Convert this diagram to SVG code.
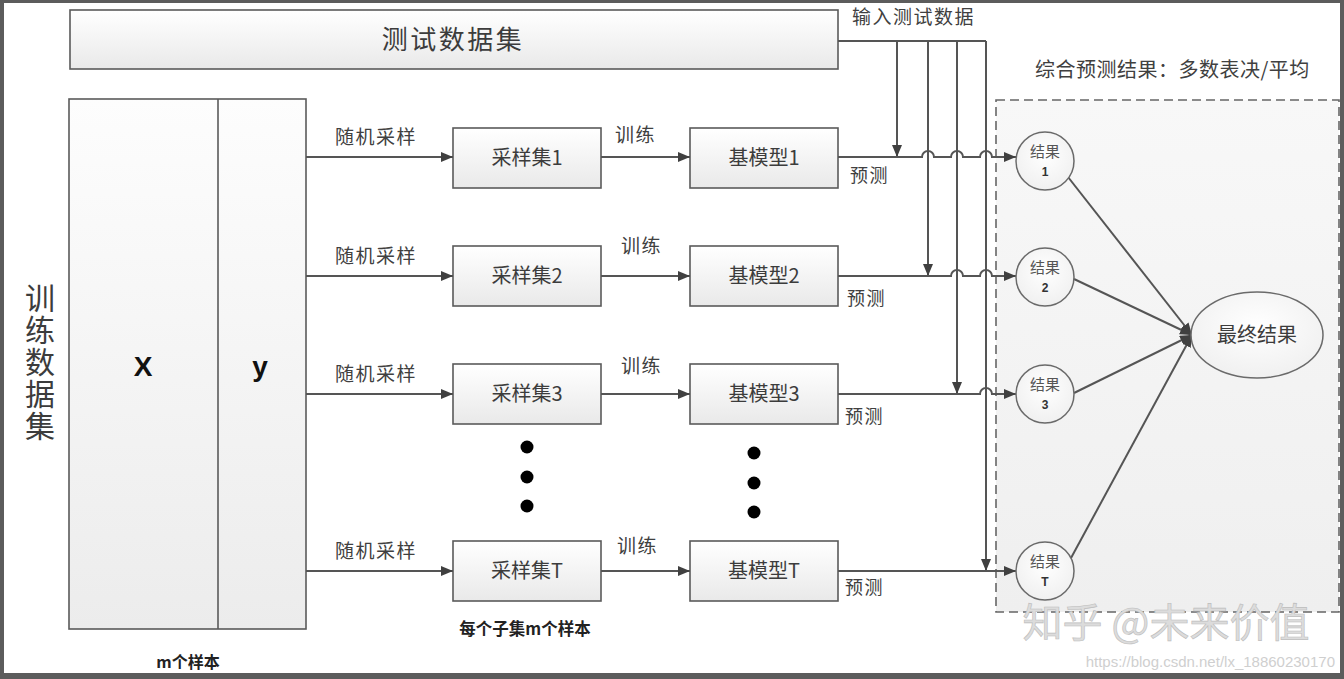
<svg xmlns="http://www.w3.org/2000/svg" width="1344" height="679" viewBox="0 0 1344 679">
<defs>
<linearGradient id="gBox" x1="0" y1="0" x2="0" y2="1">
<stop offset="0" stop-color="#ffffff"/><stop offset="1" stop-color="#e9e9e9"/>
</linearGradient>
<linearGradient id="gTall" x1="0" y1="0" x2="0" y2="1">
<stop offset="0" stop-color="#fdfdfd"/><stop offset="1" stop-color="#ececec"/>
</linearGradient>
<linearGradient id="gDash" x1="0" y1="0" x2="0" y2="1">
<stop offset="0" stop-color="#f8f8f8"/><stop offset="1" stop-color="#efefef"/>
</linearGradient>
<radialGradient id="gCirc" cx="0.5" cy="0.4" r="0.6">
<stop offset="0" stop-color="#ffffff"/><stop offset="1" stop-color="#f0f0f0"/>
</radialGradient>
<marker id="arr" viewBox="0 0 12 10" refX="12" refY="5" markerWidth="12" markerHeight="10" markerUnits="userSpaceOnUse" orient="auto">
<path d="M0,0 L12,5 L0,10 z" fill="#404040"/>
</marker>
</defs>
<style>
.box{fill:url(#gBox);stroke:#5a5a5a;stroke-width:1.6}
.ln{fill:none;stroke:#555;stroke-width:2}
.t{font-family:"Noto Sans CJK SC","Liberation Sans",sans-serif;fill:#3c3c3c;text-anchor:middle}
.lab{font-family:"Noto Sans CJK SC","Liberation Sans",sans-serif;fill:#404040;font-size:19px;letter-spacing:1.5px}
.bt{font-family:"Noto Sans CJK SC","Liberation Sans",sans-serif;fill:#3c3c3c;text-anchor:middle;font-size:20px}
.circ{fill:url(#gCirc);stroke:#6a6a6a;stroke-width:1.5}
.ct{font-family:"Noto Sans CJK SC","Liberation Sans",sans-serif;fill:#555;text-anchor:middle;font-size:15px}
.cn{font-family:"Liberation Sans",sans-serif;fill:#333;text-anchor:middle;font-size:12px;font-weight:bold}
.dot{fill:#000}
</style>
<rect x="0" y="0" width="1344" height="679" fill="#5c5c5c"/>
<rect x="4" y="3" width="1336" height="670" fill="#ffffff"/>

<g id="test-set">
<rect class="box" x="70" y="10" width="768" height="59"/>
<text class="t" x="453" y="49" font-size="26" letter-spacing="2.5">测试数据集</text>
</g>
<text class="lab" x="852" y="24">输入测试数据</text>

<g id="train-set">
<rect x="69" y="99" width="237" height="530" fill="url(#gTall)" stroke="#5a5a5a" stroke-width="1.6"/>
<line x1="218" y1="99" x2="218" y2="629" stroke="#5a5a5a" stroke-width="1.6"/>
<text x="143" y="376" font-family="Liberation Sans, sans-serif" font-weight="bold" font-size="28" fill="#111" text-anchor="middle">X</text>
<text x="260" y="376" font-family="Liberation Sans, sans-serif" font-weight="bold" font-size="28" fill="#111" text-anchor="middle">y</text>
<text x="40" y="283" font-family="Noto Sans CJK SC, sans-serif" font-size="30" fill="#3c3c3c" letter-spacing="2" style="writing-mode:vertical-rl">训练数据集</text>
</g>
<text class="t" x="188" y="668" font-size="16" font-weight="bold" style="fill:#222">m个样本</text>
<text class="t" x="525" y="635" font-size="16.5" font-weight="bold" style="fill:#222">每个子集m个样本</text>

<g id="sample-1"><rect class="box" x="453" y="128" width="148" height="60"/><text class="bt" x="527" y="165">采样集1</text></g>
<g id="sample-2"><rect class="box" x="453" y="246" width="148" height="60"/><text class="bt" x="527" y="283">采样集2</text></g>
<g id="sample-3"><rect class="box" x="453" y="364" width="148" height="60"/><text class="bt" x="527" y="401">采样集3</text></g>
<g id="sample-T"><rect class="box" x="453" y="541" width="148" height="60"/><text class="bt" x="527" y="578">采样集T</text></g>

<g id="model-1"><rect class="box" x="690" y="128" width="148" height="60"/><text class="bt" x="764" y="165">基模型1</text></g>
<g id="model-2"><rect class="box" x="690" y="246" width="148" height="60"/><text class="bt" x="764" y="283">基模型2</text></g>
<g id="model-3"><rect class="box" x="690" y="364" width="148" height="60"/><text class="bt" x="764" y="401">基模型3</text></g>
<g id="model-T"><rect class="box" x="690" y="541" width="148" height="60"/><text class="bt" x="764" y="578">基模型T</text></g>

<g id="dots">
<circle class="dot" cx="527" cy="447" r="6.5"/><circle class="dot" cx="527" cy="477" r="6.5"/><circle class="dot" cx="527" cy="506" r="6.5"/>
<circle class="dot" cx="754" cy="453" r="6.5"/><circle class="dot" cx="754" cy="483" r="6.5"/><circle class="dot" cx="754" cy="512" r="6.5"/>
<circle class="dot" cx="1044" cy="448" r="6.5"/><circle class="dot" cx="1044" cy="477" r="6.5"/><circle class="dot" cx="1044" cy="507" r="6.5"/>
</g>

<g id="ensemble-area">
<rect x="996" y="100" width="343" height="512" fill="url(#gDash)" stroke="#666" stroke-width="1.6" stroke-dasharray="9,5"/>
</g>
<text class="lab" x="1035" y="77" style="font-size:20px;letter-spacing:0.5px">综合预测结果：多数表决/平均</text>

<g id="connectors">
<path class="ln" d="M306,157 H453" marker-end="url(#arr)"/>
<path class="ln" d="M306,276 H453" marker-end="url(#arr)"/>
<path class="ln" d="M306,394 H453" marker-end="url(#arr)"/>
<path class="ln" d="M306,571 H453" marker-end="url(#arr)"/>
<path class="ln" d="M601,157 H690" marker-end="url(#arr)"/>
<path class="ln" d="M601,276 H690" marker-end="url(#arr)"/>
<path class="ln" d="M601,394 H690" marker-end="url(#arr)"/>
<path class="ln" d="M601,571 H690" marker-end="url(#arr)"/>
<path class="ln" d="M838,41 H986"/>
<path class="ln" d="M897,41 V157" marker-end="url(#arr)"/>
<path class="ln" d="M928,41 V276" marker-end="url(#arr)"/>
<path class="ln" d="M957,41 V394" marker-end="url(#arr)"/>
<path class="ln" d="M986,41 V571" marker-end="url(#arr)"/>
<path class="ln" d="M838,157 H922 a6,6 0 0 1 12,0 H951 a6,6 0 0 1 12,0 H980 a6,6 0 0 1 12,0 H1016" marker-end="url(#arr)"/>
<path class="ln" d="M838,276 H951 a6,6 0 0 1 12,0 H980 a6,6 0 0 1 12,0 H1016" marker-end="url(#arr)"/>
<path class="ln" d="M838,394 H980 a6,6 0 0 1 12,0 H1016" marker-end="url(#arr)"/>
<path class="ln" d="M838,571 H1016" marker-end="url(#arr)"/>
<path class="ln" d="M1068,177 L1192,335" marker-end="url(#arr)"/>
<path class="ln" d="M1074,279 L1192,335" marker-end="url(#arr)"/>
<path class="ln" d="M1074,393 L1192,335" marker-end="url(#arr)"/>
<path class="ln" d="M1071,558 L1192,335" marker-end="url(#arr)"/>
</g>

<g id="edge-labels">
<text class="lab" x="335" y="144">随机采样</text>
<text class="lab" x="335" y="263">随机采样</text>
<text class="lab" x="335" y="381">随机采样</text>
<text class="lab" x="335" y="558">随机采样</text>
<text class="lab" x="615" y="142">训练</text>
<text class="lab" x="621" y="253">训练</text>
<text class="lab" x="621" y="373">训练</text>
<text class="lab" x="617" y="553">训练</text>
<text class="lab" x="850" y="182" style="font-size:18px">预测</text>
<text class="lab" x="847" y="305" style="font-size:18px">预测</text>
<text class="lab" x="845" y="423" style="font-size:18px">预测</text>
<text class="lab" x="845" y="594" style="font-size:18px">预测</text>
</g>

<g id="result-1"><circle class="circ" cx="1045" cy="161" r="29"/><text class="ct" x="1045" y="157">结果</text><text class="cn" x="1045" y="176">1</text></g>
<g id="result-2"><circle class="circ" cx="1045" cy="277" r="29"/><text class="ct" x="1045" y="273">结果</text><text class="cn" x="1045" y="292">2</text></g>
<g id="result-3"><circle class="circ" cx="1045" cy="394" r="29"/><text class="ct" x="1045" y="390">结果</text><text class="cn" x="1045" y="409">3</text></g>
<g id="result-T"><circle class="circ" cx="1045" cy="571" r="29"/><text class="ct" x="1045" y="567">结果</text><text class="cn" x="1045" y="586">T</text></g>

<g id="final-result">
<ellipse cx="1257" cy="335" rx="66" ry="43" fill="url(#gCirc)" stroke="#6a6a6a" stroke-width="1.5"/>
<text class="t" x="1257" y="342" font-size="20">最终结果</text>
</g>

<text x="1166" y="637" font-family="Noto Sans CJK SC, sans-serif" font-size="40" fill="#dcdcdc" stroke="#bdbdbd" stroke-width="0.6" text-anchor="middle">知乎 @未来价值</text>
<text x="1335" y="667" font-family="Liberation Sans, sans-serif" font-size="15" fill="#cfcfcf" text-anchor="end">https://blog.csdn.net/lx_18860230170</text>
</svg>
